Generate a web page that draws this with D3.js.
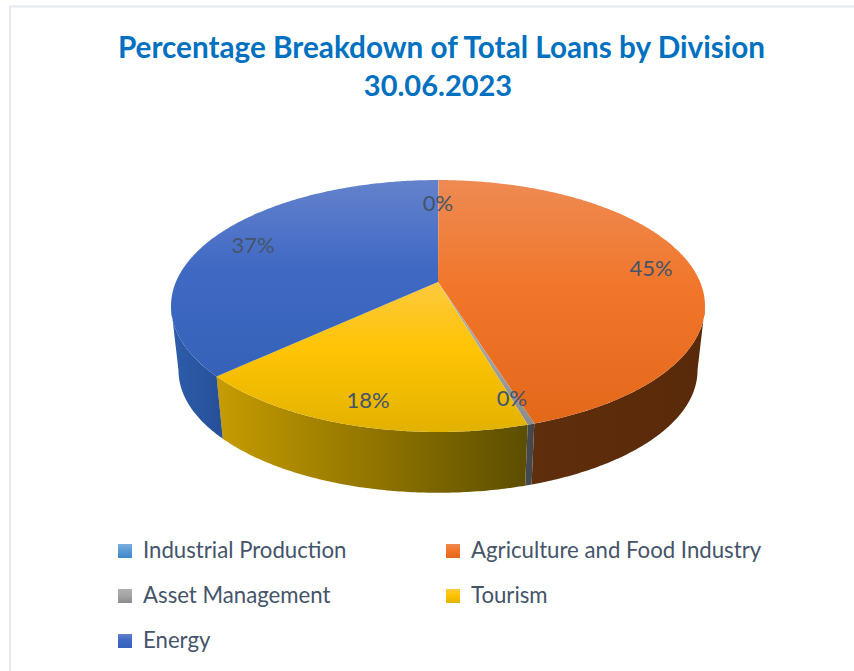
<!DOCTYPE html>
<html>
<head>
<meta charset="utf-8">
<script src="https://cdn.jsdelivr.net/npm/d3@7"></script>
<style>
    html, body { margin: 0; padding: 0; background: #fff; overflow: hidden; }
    text { font-family: Lato, "Open Sans", sans-serif; }
</style>
</head>
<body>
<svg id="chart" width="854" height="671"></svg>
<script>
// values (percent of total loans)
var categories = ['Industrial Production', 'Agriculture and Food Industry', 'Asset Management', 'Tourism', 'Energy']
var shares = [0.04, 45.1, 0.35, 17.67, 36.84]
var titleLines = ['Percentage Breakdown of Total Loans by Division', '30.06.2023']

// [light, mid, dark] of the top face, then [left, right] of the side wall
var topColors = [
    ['#79afe0', '#5b9bd5', '#3f87cb'],
    ['#ee8a52', '#f1762a', '#e4681a'],
    ['#b0b0b0', '#a5a5a5', '#8c8c8c'],
    ['#fdc93f', '#ffc404', '#e2b200'],
    ['#6482cc', '#4069c4', '#3562b8']
]
var sideColors = [
    ['#2f5f8c', '#2f5f8c'],
    ['#5f2e0c', '#592a09'],
    ['#474b50', '#434649'],
    ['#c69c00', '#5c4e00'],
    ['#2d5dab', '#274f98']
]
// label anchor points in the page, per slice
var labelSpots = [[438, 203], [651, 268.5], [512, 398.5], [368, 400.5], [253, 245.5]]

var svg = d3.select('#chart')
var defs = svg.append('defs')

// tilted disc with perspective: near edge is stretched compared to the far edge
var cx = 438, tilt = 0.1905, spreadX = 262.1, spreadY = 121.4

function project(angle, level) {
    // level 0 = top face, 1 = bottom face
    var scale = level ? 0.972 : 1
    var apexY = level ? 347 : 282
    var w = 1 + tilt * Math.cos(angle)
    return [
        cx + scale * spreadX * Math.sin(angle) / w,
        apexY - scale * spreadY * Math.cos(angle) / w
    ]
}

function sweep(a0, a1) {
    var n = Math.max(2, Math.ceil((a1 - a0) / 0.01))
    return d3.range(n + 1).map(i => a0 + (a1 - a0) * i / n)
}

var line = d3.line()
var slices = d3.pie().sort(null).value(d => d)(shares)

topColors.forEach(function (c, i) {
    var g = defs.append('linearGradient').attr('id', 'top' + i)
        .attr('x1', 0).attr('y1', 0).attr('x2', 0).attr('y2', 1)
    g.append('stop').attr('offset', 0).attr('stop-color', c[0])
    g.append('stop').attr('offset', 0.45).attr('stop-color', c[1])
    g.append('stop').attr('offset', 1).attr('stop-color', c[2])
    var s = defs.append('linearGradient').attr('id', 'side' + i)
    s.append('stop').attr('offset', 0).attr('stop-color', sideColors[i][0])
    s.append('stop').attr('offset', 1).attr('stop-color', sideColors[i][1])
})

// chart frame, runs off the right and bottom of the crop
svg.append('rect')
    .attr('x', 10).attr('y', 6.5).attr('width', 900).attr('height', 700)
    .attr('fill', 'none').attr('stroke', '#e4e9ef').attr('stroke-width', 2)

svg.selectAll('.title')
    .data(titleLines)
    .enter().append('text')
    .attr('class', 'title')
    .attr('x', (d, i) => i == 0 ? 441.5 : 438)
    .attr('y', (d, i) => 58 + i * 38)
    .attr('text-anchor', 'middle')
    .attr('font-size', (d, i) => i == 0 ? 29.7 : 29)
    .attr('font-weight', 700)
    .attr('fill', '#0070c0')
    .text(d => d)

// visible part of the wall runs between the two silhouette points
var wallStart = Math.acos(-tilt), wallEnd = 2 * Math.PI - wallStart

svg.append('g').selectAll('path')
    .data(slices.filter(d => d.endAngle > wallStart && d.startAngle < wallEnd))
    .enter().append('path')
    .attr('fill', d => 'url(#side' + d.index + ')')
    .attr('d', function (d) {
        var angles = sweep(Math.max(d.startAngle, wallStart), Math.min(d.endAngle, wallEnd))
        var pts = angles.map(a => project(a, 0)).concat(angles.slice().reverse().map(a => project(a, 1)))
        return line(pts) + 'Z'
    })

svg.append('g').selectAll('path')
    .data(slices)
    .enter().append('path')
    .attr('fill', d => 'url(#top' + d.index + ')')
    .attr('d', function (d) {
        var pts = [[cx, 282]].concat(sweep(d.startAngle, d.endAngle).map(a => project(a, 0)))
        return line(pts) + 'Z'
    })

svg.append('g').selectAll('text')
    .data(slices)
    .enter().append('text')
    .attr('x', (d, i) => labelSpots[i][0])
    .attr('y', (d, i) => labelSpots[i][1])
    .attr('dy', '0.35em')
    .attr('text-anchor', 'middle')
    .attr('font-size', 22)
    .attr('fill', '#44546a')
    .text(d => Math.round(d.value) + '%')

// legend: two columns, filled row by row
var legendX = d3.scaleOrdinal().domain([0, 1]).range([118, 446])
var legendY = d3.scalePoint().domain([0, 1, 2]).range([551, 641])

var legend = svg.append('g').selectAll('g')
    .data(categories)
    .enter().append('g')
    .attr('transform', (d, i) => `translate(${legendX(i % 2)},${legendY(Math.floor(i / 2))})`)

legend.append('rect')
    .attr('y', -7).attr('width', 14).attr('height', 14)
    .attr('fill', (d, i) => 'url(#top' + i + ')')

legend.append('text')
    .attr('x', 25)
    .attr('y', -0.5)
    .attr('dy', '0.35em')
    .attr('font-size', 22.2)
    .attr('fill', '#44546a')
    .text(d => d)
</script>
</body>
</html>
